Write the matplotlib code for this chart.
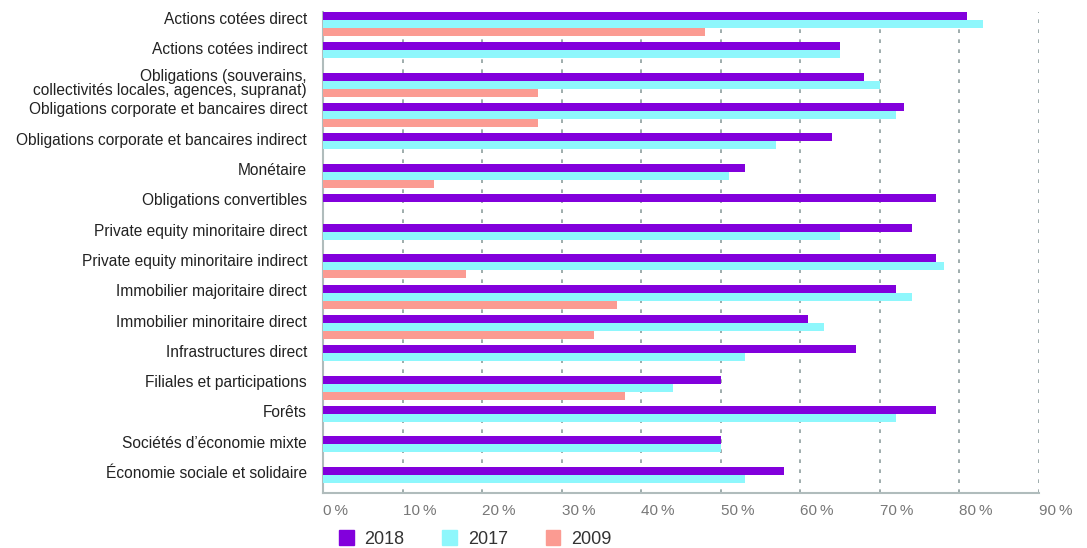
import matplotlib
matplotlib.use("Agg")
from matplotlib import pyplot as plt
from matplotlib.patches import Patch
from matplotlib.transforms import ScaledTranslation
import numpy as np

# Data (percent)
categories = [
    "Actions cotées direct",
    "Actions cotées indirect",
    "Obligations (souverains,\ncollectivités locales, agences, supranat)",
    "Obligations corporate et bancaires direct",
    "Obligations corporate et bancaires indirect",
    "Monétaire",
    "Obligations convertibles",
    "Private equity minoritaire direct",
    "Private equity minoritaire indirect",
    "Immobilier majoritaire direct",
    "Immobilier minoritaire direct",
    "Infrastructures direct",
    "Filiales et participations",
    "Forêts",
    "Sociétés d\u2019économie mixte",
    "Économie sociale et solidaire",
]
values_2018 = [81, 65, 68, 73, 64, 53, 77, 74, 77, 72, 61, 67, 50, 77, 50, 58]
values_2017 = [83, 65, 70, 72, 57, 51, 0, 65, 78, 74, 63, 53, 44, 72, 50, 53]
values_2009 = [48, 0, 27, 27, 0, 14, 0, 0, 18, 37, 34, 0, 38, 0, 0, 0]
tick_values = [0, 10, 20, 30, 40, 50, 60, 70, 80, 90]
tick_labels = ["%d\u2009%%" % v for v in tick_values]

c2018 = "#8200DC"
c2017 = "#8EF7FC"
c2009 = "#FB9B92"

plt.rcParams["font.family"] = ["Liberation Sans", "DejaVu Sans"]

fig = plt.figure(figsize=(10.87, 5.48), dpi=100)
ax = fig.add_axes([0.2972, 0.1004, 0.6586, 0.8776])

y = np.arange(len(categories))
h = 0.264
ax.barh(y, values_2018, height=h, color=c2018, zorder=3)
ax.barh(y + h, values_2017, height=h, color=c2017, zorder=3)
ax.barh(y + 2 * h, values_2009, height=h, color=c2009, zorder=3)

ax.set_xlim(0, 90)
ax.set_ylim(15.74, -0.13)

ax.set_yticks(y + 0.05)
ax.set_yticklabels(categories, fontsize=11.2, color="#222222", linespacing=0.95)
ax.tick_params(axis="y", length=0, pad=11.5)
# two-line label sits a little lower in the original
lab = ax.get_yticklabels()[2]
lab.set_transform(lab.get_transform() + ScaledTranslation(0, -4 / 100, fig.dpi_scale_trans))

ax.set_xticks(tick_values)
ax.set_xticklabels(tick_labels, fontsize=11, color="#777777", ha="left")
ax.tick_params(axis="x", length=0, pad=8)

ax.grid(axis="x", linestyle=(0, (2.2, 3.8)), color="#8E9E9E", linewidth=1.2, zorder=0)
for s in ["top", "right"]:
    ax.spines[s].set_visible(False)
for s in ["left", "bottom"]:
    ax.spines[s].set_color("#B0BCBC")
    ax.spines[s].set_linewidth(1.5)

handles = [Patch(color=c2018, label="2018"),
           Patch(color=c2017, label="2017"),
           Patch(color=c2009, label="2009")]
fig.legend(handles=handles, loc="lower left", bbox_to_anchor=(0.297, -0.03), ncol=3,
           frameon=False, fontsize=13, handlelength=0.8, handleheight=0.9,
           columnspacing=2.1, handletextpad=0.6, labelcolor="#333333")

fig.savefig("out.png", dpi=100)
